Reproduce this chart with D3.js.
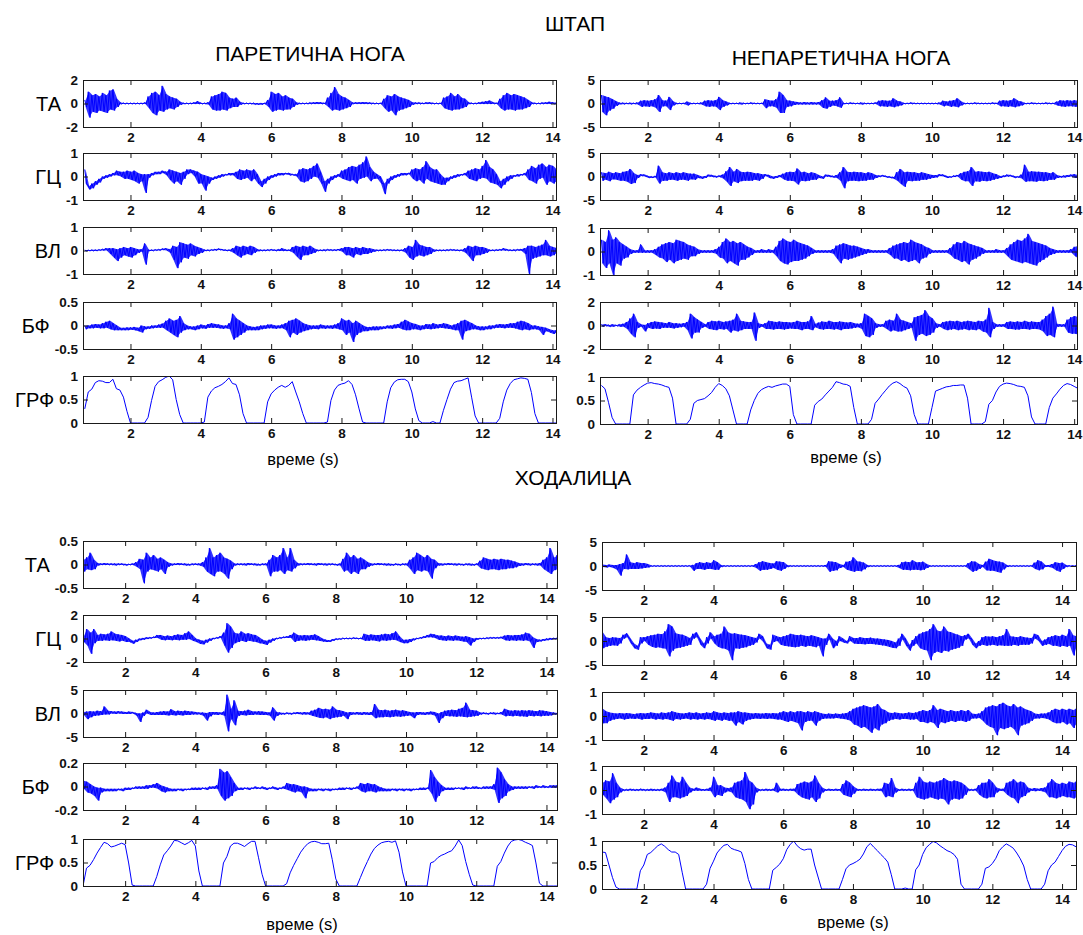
<!DOCTYPE html>
<html><head><meta charset="utf-8">
<script src="https://cdn.jsdelivr.net/npm/d3@7"></script>
<style>
body{margin:0;background:#fff;}
svg text{font-family:"Liberation Sans",Arial,sans-serif;}
</style></head><body>
<svg id="c" width="1083" height="935"></svg>
<script>
// ---------------- DATA ----------------
// EMG traces: per 0.1 s bin, the bin maximum then the bin minimum (alternating).
// GRF traces: one value per 0.1 s.
const mainTitle = "ШТАП";
const sectionTitle2 = "ХОДАЛИЦА";
const colTitles = ["ПАРЕТИЧНА НОГА", "НЕПАРЕТИЧНА НОГА"];
const muscles = ["ТА", "ГЦ", "ВЛ", "БФ", "ГРФ"];
const xLabel = "време (s)";
const xTicks = [2, 4, 6, 8, 10, 12, 14];
const binStep = 0.1;
const startTop = 0.7, startBL = 0.8, startBR = 0.8;

const yTicksTL = [[-2,0,2],[-1,0,1],[-1,0,1],[-0.5,0,0.5],[0,0.5,1]];
const yTicksTR = [[-5,0,5],[-5,0,5],[-1,0,1],[-2,0,2],[0,0.5,1]];
const yTicksBL = [[-0.5,0,0.5],[-2,0,2],[-5,0,5],[-0.2,0,0.2],[0,0.5,1]];
const yTicksBR = [[-5,0,5],[-5,0,5],[-1,0,1],[-1,0,1],[0,0.5,1]];

// ---- ШТАП, ПАРЕТИЧНА НОГА (t from 0.7) ----
const tlTA = [
0.3,-0.3, 1.0,-1.2, 0.7,-0.7,
0.8,-0.8, 0.6,-0.6, 0.9,-0.7, 0.7,-0.8, 1.1,-0.5, 1.2,-0.6, 0.4,-0.3, 0.08,-0.05, 0.05,-0.05, 0.05,-0.05,
0.05,-0.05, 0.05,-0.05, 0.05,-0.05, 0.05,-0.05, 0.08,-0.05, 0.6,-0.4, 0.9,-0.8, 1.0,-1.0, 0.7,-0.6, 1.5,-0.7,
0.8,-0.5, 0.6,-0.4, 0.5,-0.5, 0.4,-0.3, 0.15,-0.1, 0.05,-0.05, 0.05,-0.05, 0.05,-0.05, 0.1,-0.05, 0.2,-0.05,
0.05,-0.05, 0.05,-0.05, 0.1,-0.1, 0.6,-0.5, 0.7,-0.6, 0.8,-0.6, 1.0,-0.5, 0.9,-0.6, 0.5,-0.4, 0.4,-0.3,
0.5,-0.3, 0.15,-0.1, 0.05,-0.05, 0.05,-0.05, 0.05,-0.05, 0.05,-0.08, 0.02,-0.1, 0.05,-0.1, 0.05,-0.05, 0.3,-0.3,
1.0,-0.7, 0.8,-0.6, 0.9,-0.5, 0.6,-0.6, 0.7,-0.5, 0.5,-0.5, 0.4,-0.3, 0.1,-0.1, 0.05,-0.05, 0.05,-0.05,
0.05,-0.05, 0.08,-0.05, 0.1,-0.05, 0.12,-0.05, 0.1,-0.05, 0.05,-0.05, 0.5,-0.3, 0.9,-0.6, 1.4,-0.5, 0.8,-0.6,
0.6,-0.5, 0.5,-0.4, 0.3,-0.3, 0.08,-0.05, 0.1,-0.05, 0.1,-0.05, 0.12,-0.05, 0.1,-0.05, 0.08,-0.05, 0.05,-0.05,
0.05,-0.05, 0.05,-0.05, 0.4,-0.4, 0.7,-0.7, 0.6,-0.6, 0.8,-1.0, 0.6,-0.6, 0.5,-0.5, 0.4,-0.4, 0.3,-0.3,
0.1,-0.1, 0.08,-0.05, 0.08,-0.05, 0.05,-0.05, 0.1,-0.05, 0.1,-0.05, 0.05,-0.05, 0.05,-0.05, 0.05,-0.05, 0.5,-0.4,
0.6,-0.5, 0.9,-0.6, 0.6,-0.5, 0.8,-0.5, 0.5,-0.4, 0.4,-0.3, 0.1,-0.05, 0.05,-0.05, 0.05,-0.05, 0.1,-0.05,
0.15,-0.05, 0.2,-0.05, 0.25,-0.05, 0.1,-0.05, 0.05,-0.05, 0.4,-0.4, 0.7,-0.6, 0.9,-0.5, 0.7,-0.5, 0.8,-0.6,
0.7,-0.5, 0.6,-0.5, 0.5,-0.4, 0.3,-0.3, 0.1,-0.05, 0.05,-0.05, 0.05,-0.05, 0.08,-0.05, 0.1,-0.05, 0.15,-0.05,
0.1,-0.05, 0.05,-0.05
];
const tlGC = [
0.3,-0.3, -0.4,-0.55, -0.3,-0.5,
-0.2,-0.35, -0.1,-0.25, 0.0,-0.1, 0.05,-0.05, 0.1,0.0, 0.15,0.05, 0.25,0.05, 0.2,0.0, 0.2,-0.1, 0.25,-0.1,
0.2,-0.15, 0.25,-0.2, 0.15,-0.3, 0.1,-0.2, 0.1,-0.7, 0.1,-0.05, 0.15,0.05, 0.2,0.1, 0.2,0.1, 0.25,0.15,
0.2,0.05, 0.3,-0.15, 0.25,-0.3, 0.2,-0.2, 0.15,-0.35, 0.2,-0.1, 0.3,0.1, 0.3,0.15, 0.25,0.0, 0.2,-0.3,
0.1,-0.3, 0.05,-0.6, 0.0,-0.3, -0.05,-0.15, 0.0,-0.1, 0.05,-0.05, 0.1,0.0, 0.1,0.05, 0.15,0.05, 0.15,0.05,
0.2,-0.1, 0.3,-0.15, 0.25,-0.1, 0.3,-0.05, 0.25,-0.2, 0.3,-0.1, 0.1,-0.3, -0.2,-0.45, -0.1,-0.3, 0.0,-0.15,
0.05,-0.05, 0.1,0.0, 0.15,0.05, 0.15,0.05, 0.15,0.1, 0.15,0.05, 0.1,0.05, 0.1,0.0, 0.3,-0.2, 0.35,-0.25,
0.3,-0.2, 0.35,-0.1, 0.45,0.0, 0.55,-0.05, 0.2,-0.3, -0.2,-0.65, -0.1,-0.3, 0.0,-0.15, 0.05,-0.05, 0.1,0.0,
0.25,-0.1, 0.3,-0.15, 0.4,-0.2, 0.45,-0.15, 0.4,-0.3, 0.5,-0.1, 0.6,-0.05, 0.85,0.0, 0.4,-0.2, 0.2,-0.1,
0.1,-0.1, 0.0,-0.3, -0.3,-0.75, -0.1,-0.3, 0.0,-0.15, 0.05,-0.05, 0.1,0.0, 0.15,0.05, 0.15,0.05, 0.15,0.1,
0.3,-0.1, 0.35,-0.2, 0.3,-0.15, 0.4,-0.3, 0.65,-0.1, 0.4,-0.2, 0.3,-0.25, 0.3,-0.3, 0.1,-0.35, -0.05,-0.35,
-0.05,-0.2, 0.0,-0.1, 0.05,-0.05, 0.1,0.0, 0.1,0.05, 0.15,0.05, 0.25,-0.1, 0.3,-0.15, 0.35,-0.2, 0.3,-0.1,
0.45,-0.05, 0.7,-0.1, 0.4,-0.25, 0.3,-0.3, 0.1,-0.35, -0.2,-0.5, -0.1,-0.35, 0.0,-0.2, 0.05,-0.1, 0.05,0.0,
0.1,0.0, 0.1,0.05, 0.15,0.05, 0.3,-0.15, 0.45,-0.2, 0.35,-0.3, 0.5,-0.1, 0.55,-0.05, 0.4,-0.35, 0.5,-0.2,
0.45,-0.3, 0.3,-0.2
];
const tlVL = [
0.02,-0.02, 0.02,-0.02, 0.03,-0.02,
0.03,-0.02, 0.04,0.0, 0.06,0.0, 0.1,0.0, 0.1,-0.15, 0.1,-0.3, 0.05,-0.45, 0.1,-0.3, 0.15,-0.2, 0.1,-0.25,
0.15,-0.3, 0.1,-0.2, 0.05,-0.1, 0.05,-0.05, 0.3,-0.6, 0.03,-0.02, 0.03,-0.02, 0.04,0.0, 0.05,0.0, 0.08,0.02,
0.1,0.0, 0.05,-0.1, 0.2,-0.4, 0.15,-0.75, 0.35,-0.5, 0.3,-0.3, 0.25,-0.35, 0.3,-0.2, 0.2,-0.25, 0.15,-0.15,
0.1,-0.1, 0.03,-0.02, 0.03,-0.02, 0.04,0.0, 0.06,0.0, 0.08,0.02, 0.05,0.0, 0.03,-0.02, 0.03,-0.02, 0.1,-0.1,
0.2,-0.2, 0.15,-0.3, 0.2,-0.2, 0.15,-0.15, 0.2,-0.2, 0.15,-0.1, 0.05,-0.03, 0.03,-0.02, 0.03,-0.02, 0.04,-0.01,
0.05,0.0, 0.03,-0.02, 0.05,-0.02, 0.1,-0.02, 0.04,-0.02, 0.03,-0.02, 0.15,-0.1, 0.2,-0.25, 0.15,-0.4, 0.2,-0.2,
0.15,-0.2, 0.2,-0.15, 0.1,-0.1, 0.03,-0.02, 0.03,-0.02, 0.04,-0.02, 0.05,0.0, 0.04,-0.01, 0.04,-0.01, 0.06,0.0,
0.1,-0.05, 0.15,-0.2, 0.15,-0.2, 0.1,-0.3, 0.15,-0.15, 0.1,-0.2, 0.15,-0.15, 0.1,-0.15, 0.1,-0.1, 0.05,-0.05,
0.03,-0.02, 0.03,-0.02, 0.04,-0.01, 0.05,0.0, 0.04,-0.01, 0.03,-0.02, 0.03,-0.02, 0.03,-0.02, 0.1,-0.1, 0.2,-0.3,
0.15,-0.4, 0.45,-0.25, 0.25,-0.2, 0.2,-0.25, 0.15,-0.2, 0.15,-0.15, 0.05,-0.05, 0.03,-0.02, 0.03,-0.02, 0.03,-0.02,
0.04,-0.01, 0.05,0.0, 0.04,-0.01, 0.03,-0.02, 0.03,-0.02, 0.1,-0.1, 0.2,-0.25, 0.15,-0.45, 0.2,-0.2, 0.15,-0.2,
0.15,-0.15, 0.1,-0.1, 0.03,-0.02, 0.03,-0.02, 0.04,-0.01, 0.05,0.0, 0.1,0.0, 0.05,-0.01, 0.03,-0.02, 0.04,-0.02,
0.05,0.0, 0.06,-0.02, 0.1,-0.15, 0.2,-1.0, 0.2,-0.35, 0.15,-0.3, 0.2,-0.25, 0.25,-0.2, 0.45,-0.2, 0.2,-0.25,
0.15,-0.2, 0.1,-0.1
];
const tlBF = [
0.0,-0.08, 0.0,-0.06, 0.02,-0.06,
0.03,-0.05, 0.02,-0.06, 0.05,-0.06, 0.08,-0.05, 0.1,-0.08, 0.05,-0.1, 0.0,-0.1, -0.05,-0.1, -0.05,-0.1, -0.04,-0.1,
-0.04,-0.09, -0.03,-0.1, -0.05,-0.12, 0.0,-0.15, -0.02,-0.08, -0.02,-0.07, 0.0,-0.06, 0.0,-0.05, 0.02,-0.05, 0.04,-0.05,
0.1,-0.1, 0.15,-0.15, 0.1,-0.2, 0.12,-0.25, 0.2,-0.15, 0.05,-0.1, 0.0,-0.08, -0.02,-0.08, -0.02,-0.1, 0.0,-0.08,
0.02,-0.06, 0.0,-0.07, 0.03,-0.05, 0.05,-0.05, 0.03,-0.05, 0.02,-0.06, 0.0,-0.07, 0.0,-0.06, 0.05,-0.08, 0.25,-0.3,
0.15,-0.25, 0.1,-0.2, 0.05,-0.15, 0.0,-0.1, -0.02,-0.1, -0.03,-0.1, -0.02,-0.1, 0.0,-0.08, 0.0,-0.07, 0.02,-0.06,
0.02,-0.06, 0.0,-0.07, 0.0,-0.06, 0.02,-0.06, 0.05,-0.1, 0.1,-0.25, 0.12,-0.15, 0.15,-0.2, 0.1,-0.15, 0.05,-0.12,
0.02,-0.1, 0.0,-0.08, 0.0,-0.07, 0.0,-0.08, 0.02,-0.06, 0.0,-0.07, 0.0,-0.06, 0.0,-0.07, 0.02,-0.06, 0.05,-0.08,
0.15,-0.1, 0.1,-0.2, 0.12,-0.15, 0.05,-0.35, 0.1,-0.2, 0.05,-0.15, 0.0,-0.12, -0.03,-0.12, -0.03,-0.1, -0.02,-0.1,
-0.02,-0.1, -0.02,-0.08, -0.02,-0.07, 0.0,-0.06, 0.0,-0.07, 0.02,-0.06, 0.03,-0.05, 0.08,-0.08, 0.12,-0.1, 0.08,-0.1,
0.05,-0.08, 0.03,-0.08, 0.0,-0.1, 0.0,-0.08, 0.03,-0.07, 0.02,-0.08, 0.05,-0.07, 0.02,-0.06, 0.03,-0.05, 0.05,-0.06,
0.03,-0.07, 0.0,-0.08, 0.02,-0.1, 0.05,-0.1, 0.1,-0.3, 0.12,-0.12, 0.08,-0.1, 0.05,-0.08, 0.0,-0.08, -0.02,-0.1,
-0.02,-0.1, -0.02,-0.08, 0.0,-0.08, 0.0,-0.06, 0.02,-0.05, 0.03,-0.05, 0.02,-0.06, 0.03,-0.05, 0.05,-0.05, 0.05,-0.06,
0.08,-0.08, 0.1,-0.1, 0.08,-0.08, 0.05,-0.1, 0.0,-0.08, 0.0,-0.08, -0.02,-0.1, -0.03,-0.2, -0.05,-0.12, -0.08,-0.15,
-0.1,-0.18, -0.1,-0.15
];
const tlGRF = [
0.3, 0.66, 0.72,
0.86, 0.9, 0.89, 0.86, 0.86, 0.93, 0.73, 0.7, 0.55, 0.25,
0, 0, 0, 0, 0, 0.12, 0.48, 0.78, 0.88, 0.92,
0.97, 1.0, 0.92, 0.5, 0.18, 0, 0, 0, 0, 0,
0, 0.02, 0.55, 0.68, 0.75, 0.78, 0.82, 0.88, 0.96, 0.84,
0.82, 0.6, 0.2, 0, 0, 0, 0, 0, 0, 0.45,
0.62, 0.7, 0.76, 0.8, 0.76, 0.8, 0.88, 0.66, 0.45, 0.2,
0, 0, 0, 0, 0, 0, 0.02, 0.48, 0.7, 0.8,
0.83, 0.85, 0.9, 0.82, 0.6, 0.3, 0.02, 0, 0, 0,
0, 0, 0, 0.45, 0.75, 0.87, 0.92, 0.93, 0.93, 0.88,
0.66, 0.3, 0.05, 0, 0, 0, 0.03, 0, 0, 0.27,
0.5, 0.72, 0.86, 0.89, 0.9, 0.93, 0.96, 0.55, 0.15, 0,
0, 0, 0, 0, 0, 0.1, 0.45, 0.7, 0.84, 0.92,
0.94, 0.96, 0.95, 0.93, 0.65, 0.2, 0, 0, 0, 0,
0, 0
];

// ---- ШТАП, НЕПАРЕТИЧНА НОГА (t from 0.7) ----
const trTA = [
1.8,-1.8, 1.5,-2.5, 1.3,-1.5,
0.9,-1.1, 0.5,-0.5, 0.15,-0.15, 0.15,-0.15, 0.1,-0.1, 0.15,-0.15, 0.1,-0.1, 0.2,-0.2, 0.6,-0.7, 0.7,-0.6,
0.6,-0.7, 0.7,-0.6, 0.9,-0.9, 1.8,-1.8, 0.7,-0.6, 0.6,-0.6, 1.4,-1.4, 0.5,-0.4, 0.1,-0.1, 0.1,-0.1,
0.1,-0.1, 0.4,-0.4, 0.1,-0.1, 0.1,-0.1, 0.1,-0.1, 0.2,-0.2, 0.6,-0.6, 0.7,-0.7, 0.6,-0.6, 0.7,-0.7,
1.4,-1.4, 0.7,-0.7, 0.4,-0.4, 0.1,-0.1, 0.1,-0.1, 0.1,-0.1, 0.2,-0.2, 0.1,-0.1, 0.1,-0.1, 0.2,-0.1,
0.1,-0.1, 0.1,-0.1, 0.1,-0.1, 0.9,-1.0, 0.7,-0.6, 0.6,-0.6, 0.9,-0.9, 2.5,-2.0, 1.8,-2.0, 0.7,-0.7,
0.6,-0.6, 0.4,-0.3, 0.3,-0.2, 0.2,-0.2, 0.3,-0.2, 0.2,-0.2, 0.3,-0.2, 0.2,-0.2, 0.3,-0.2, 0.7,-0.9,
1.3,-1.1, 0.6,-0.7, 0.6,-0.4, 0.7,-0.6, 1.3,-0.9, 0.1,-0.1, 0.1,-0.1, 0.2,-0.1, 0.1,-0.1, 0.1,-0.1,
0.2,-0.2, 0.1,-0.1, 0.1,-0.1, 0.1,-0.1, 0.2,-0.1, 0.6,-0.6, 0.7,-0.6, 0.6,-0.7, 0.6,-0.6, 1.1,-0.8,
0.6,-0.6, 0.4,-0.4, 0.1,-0.1, 0.1,-0.1, 0.2,-0.1, 0.1,-0.1, 0.1,-0.1, 0.1,-0.1, 0.1,-0.1, 0.1,-0.1,
0.1,-0.1, 0.1,-0.1, 0.2,-0.2, 0.6,-0.6, 0.4,-0.4, 0.6,-0.7, 0.7,-0.6, 1.1,-0.8, 0.5,-0.4, 0.1,-0.1,
0.1,-0.1, 0.1,-0.1, 0.2,-0.1, 0.1,-0.1, 0.1,-0.1, 0.1,-0.1, 0.1,-0.1, 0.2,-0.1, 0.1,-0.1, 0.6,-0.6,
0.7,-0.6, 0.6,-0.7, 0.7,-0.6, 1.1,-0.8, 0.6,-0.6, 0.4,-0.4, 0.1,-0.1, 0.1,-0.1, 0.2,-0.1, 0.1,-0.1,
0.1,-0.1, 0.1,-0.1, 0.2,-0.1, 0.1,-0.1, 0.1,-0.1, 0.4,-0.4, 0.7,-0.6, 0.6,-0.7, 0.7,-0.6, 0.6,-0.6,
0.7,-0.7, 0.6,-0.6
];
const trGC = [
0.9,-0.9, 0.7,-0.7, 1.0,-1.0,
0.7,-0.6, 0.9,-0.7, 0.7,-0.9, 1.0,-0.9, 1.1,-1.1, 1.6,-1.6, 0.7,-1.4, 0.3,-0.3, 0.5,0.1, 0.4,0.0,
0.1,-0.3, 0.0,-0.3, 0.1,-0.2, 2.3,-1.5, 0.9,-0.9, 0.7,-0.9, 0.9,-0.7, 0.7,-0.7, 0.9,-0.9, 0.7,-0.7,
0.9,-0.7, 0.7,-0.9, 0.6,-0.6, 0.6,-0.7, 0.3,-0.3, 0.0,-0.5, 0.1,-0.3, 0.4,0.0, 0.3,-0.1, 0.1,-0.2,
0.2,-0.1, 0.4,-0.4, 1.1,-1.1, 2.0,-2.0, 1.0,-1.0, 1.6,-1.4, 1.0,-1.0, 0.9,-0.9, 1.0,-0.9, 0.9,-0.9,
0.7,-0.7, 0.7,-0.9, 0.5,-0.5, 0.5,0.1, 0.3,-0.3, 0.0,-0.5, 0.1,-0.3, 0.3,-0.1, 0.6,-0.6, 0.9,-0.9,
1.0,-0.9, 0.9,-1.0, 1.7,-1.7, 0.9,-0.9, 1.0,-1.0, 0.7,-0.9, 0.9,-0.7, 0.7,-0.7, 0.3,-0.3, 0.0,-0.5,
0.4,0.0, 0.3,-0.1, 0.1,-0.2, 0.3,-0.3, 0.9,-0.9, 2.0,-2.5, 1.0,-1.0, 0.9,-0.9, 1.0,-0.9, 0.9,-1.0,
0.9,-0.9, 0.7,-0.9, 0.9,-0.7, 0.7,-0.7, 0.3,-0.3, 0.2,-0.1, 0.3,0.0, 0.1,-0.2, 0.0,-0.3, -0.1,-0.5,
0.9,-0.9, 1.6,-1.6, 0.9,-2.2, 1.0,-0.9, 0.9,-1.0, 0.9,-0.9, 0.7,-0.9, 0.9,-0.7, 0.7,-0.7, 0.5,-0.5,
0.3,-0.3, 0.3,-0.2, 0.5,0.1, 0.4,0.0, 0.1,-0.3, 0.0,-0.2, 0.2,-0.1, 0.3,0.0, 0.7,-0.7, 1.0,-1.0,
1.1,-1.0, 2.0,-2.0, 1.0,-1.0, 1.1,-1.1, 1.0,-0.9, 0.9,-1.0, 1.0,-0.9, 0.7,-0.7, 0.5,-0.5, 0.1,-0.3,
0.2,-0.1, 0.4,0.0, 0.3,0.0, 0.1,-0.3, 0.0,-0.2, 0.4,-0.4, 2.5,-1.1, 1.0,-1.0, 1.1,-1.0, 1.0,-1.1,
1.0,-0.9, 0.9,-1.0, 0.9,-0.9, 0.7,-0.7, 0.9,-0.7, 0.3,-0.3, 0.1,-0.2, 0.2,-0.2, 0.3,-0.1, 0.4,0.0,
0.5,-0.3, 0.3,-0.3
];
const trVL = [
0.5,-0.5, 0.4,-0.7, 0.9,-0.5,
0.5,-1.0, 0.6,-0.5, 0.4,-0.6, 0.3,-0.3, 0.2,-0.25, 0.1,-0.1, 0.05,-0.05, 0.05,-0.05, 0.3,-0.05, 0.05,-0.05,
0.05,-0.05, 0.05,-0.05, 0.1,-0.15, 0.2,-0.25, 0.3,-0.3, 0.35,-0.45, 0.4,-0.35, 0.35,-0.5, 0.5,-0.4, 0.45,-0.35,
0.4,-0.3, 0.3,-0.35, 0.25,-0.2, 0.2,-0.2, 0.1,-0.1, 0.05,-0.05, 0.05,-0.05, 0.05,-0.05, 0.05,-0.05, 0.1,-0.1,
0.2,-0.25, 0.4,-0.3, 0.55,-0.5, 0.4,-0.4, 0.45,-0.5, 0.35,-0.6, 0.4,-0.35, 0.3,-0.35, 0.2,-0.25, 0.15,-0.15,
0.05,-0.05, 0.05,-0.05, 0.1,-0.05, 0.05,-0.05, 0.1,-0.05, 0.05,-0.05, 0.2,-0.2, 0.45,-0.4, 0.55,-0.5, 0.45,-0.55,
0.4,-0.45, 0.5,-0.4, 0.4,-0.4, 0.35,-0.35, 0.3,-0.3, 0.25,-0.2, 0.15,-0.1, 0.05,-0.05, 0.05,-0.05, 0.05,-0.05,
0.05,-0.05, 0.05,-0.05, 0.1,-0.1, 0.25,-0.3, 0.3,-0.5, 0.35,-0.3, 0.3,-0.35, 0.25,-0.3, 0.25,-0.25, 0.2,-0.2,
0.15,-0.15, 0.1,-0.1, 0.1,-0.05, 0.05,-0.05, 0.05,-0.05, 0.05,-0.05, 0.05,-0.05, 0.05,-0.05, 0.15,-0.15, 0.25,-0.3,
0.3,-0.3, 0.35,-0.4, 0.4,-0.35, 0.35,-0.45, 0.5,-0.4, 0.4,-0.35, 0.35,-0.5, 0.3,-0.3, 0.2,-0.25, 0.15,-0.1,
0.05,-0.05, 0.05,-0.05, 0.05,-0.05, 0.05,-0.05, 0.05,-0.05, 0.15,-0.15, 0.3,-0.3, 0.4,-0.35, 0.35,-0.45, 0.45,-0.4,
0.35,-0.55, 0.3,-0.35, 0.25,-0.3, 0.2,-0.2, 0.15,-0.1, 0.05,-0.05, 0.05,-0.05, 0.05,-0.05, 0.1,-0.05, 0.05,-0.05,
0.05,-0.05, 0.15,-0.2, 0.3,-0.35, 0.4,-0.4, 0.5,-0.45, 0.45,-0.5, 0.55,-0.45, 0.75,-0.5, 0.45,-0.55, 0.4,-0.6,
0.35,-0.45, 0.3,-0.35, 0.25,-0.25, 0.15,-0.15, 0.1,-0.1, 0.05,-0.05, 0.05,-0.05, 0.05,-0.05, 0.05,-0.05, 0.1,-0.05,
0.2,-0.2, 0.25,-0.3
];
const trBF = [
0.1,-0.1, 0.1,-0.05, 0.05,-0.1,
0.1,-0.1, 0.05,-0.05, 0.1,-0.1, 0.15,-0.1, 0.3,-0.3, 0.6,-0.7, 1.0,-1.0, 0.3,-0.2, 0.1,-0.1, 0.05,-0.5,
0.2,-0.2, 0.3,-0.3, 0.35,-0.25, 0.3,-0.3, 0.25,-0.2, 0.2,-0.2, 0.3,-0.2, 0.2,-0.25, 0.2,-0.2, 0.15,-0.15,
0.2,-0.1, 0.3,-0.4, 1.0,-1.1, 0.7,-0.6, 0.5,-0.6, 0.3,-0.2, 0.1,-0.1, 0.3,-0.3, 0.4,-0.35, 0.35,-0.4,
0.4,-0.3, 0.3,-0.35, 0.35,-0.3, 0.4,-0.6, 0.5,-0.4, 1.0,-0.5, 0.4,-0.4, 0.35,-0.3, 0.3,-0.3, 0.3,-0.3,
1.1,-1.3, 0.2,-0.2, 0.1,-0.1, 0.2,-0.3, 0.4,-0.3, 0.35,-0.35, 0.3,-0.3, 0.35,-0.3, 0.3,-0.35, 0.3,-0.3,
0.25,-0.25, 0.3,-0.3, 0.4,-0.3, 0.3,-0.4, 0.3,-0.3, 0.35,-0.3, 0.8,-0.4, 0.15,-0.15, 0.25,-0.3, 0.35,-0.35,
0.3,-0.3, 0.4,-0.3, 0.3,-0.35, 0.3,-0.3, 0.35,-0.4, 0.3,-0.3, 0.25,-0.3, 0.3,-0.25, 0.2,-0.2, 0.15,-0.15,
0.2,-0.3, 1.0,-0.9, 0.8,-1.0, 0.6,-0.8, 0.2,-0.2, 0.1,-0.1, 0.1,-0.1, 0.4,-0.3, 0.5,-0.5, 0.4,-0.4,
1.0,-0.5, 0.5,-0.5, 0.4,-0.4, 0.3,-0.3, 0.2,-0.2, 0.7,-1.3, 0.8,-0.8, 0.9,-0.7, 1.3,-0.9, 0.8,-0.8,
0.6,-0.6, 0.2,-0.2, 0.1,-0.1, 0.3,-0.3, 0.35,-0.4, 0.4,-0.35, 0.35,-0.3, 0.4,-0.4, 0.3,-0.35, 0.35,-0.3,
0.4,-0.4, 0.35,-0.35, 0.3,-0.4, 0.4,-0.3, 0.35,-0.5, 0.5,-0.6, 1.5,-1.0, 0.3,-0.3, 0.1,-0.1, 0.1,-0.1,
0.1,-0.1, 0.3,-0.3, 0.35,-0.3, 0.3,-0.35, 0.35,-0.35, 0.3,-0.3, 0.4,-0.3, 0.3,-0.35, 0.35,-0.3, 0.3,-0.3,
0.3,-0.35, 0.5,-0.5, 0.8,-0.9, 1.0,-0.8, 1.6,-1.0, 0.15,-0.1, 0.1,-0.1, 0.1,-0.1, 0.5,-0.6, 0.7,-0.7,
0.8,-0.7, 0.7,-0.8
];
const trGRF = [
0.82, 0.75, 0.46,
0.14, 0, 0, 0, 0, 0, 0.62, 0.72, 0.78, 0.83,
0.87, 0.88, 0.86, 0.85, 0.83, 0.8, 0.78, 0.55, 0, 0,
0, 0, 0.1, 0.44, 0.5, 0.52, 0.54, 0.6, 0.67, 0.78,
0.86, 0.82, 0.75, 0.6, 0.3, 0, 0, 0, 0, 0.3,
0.5, 0.65, 0.73, 0.77, 0.8, 0.78, 0.81, 0.83, 0.85, 0.85,
0.8, 0.2, 0, 0, 0, 0, 0, 0.4, 0.48, 0.53,
0.62, 0.7, 0.78, 0.9, 0.88, 0.85, 0.84, 0.8, 0.35, 0,
0, 0, 0, 0.1, 0.44, 0.53, 0.63, 0.72, 0.81, 0.87,
0.9, 0.86, 0.8, 0.76, 0.6, 0.2, 0, 0, 0, 0,
0.35, 0.7, 0.73, 0.76, 0.79, 0.8, 0.82, 0.82, 0.83, 0.83,
0.55, 0, 0, 0, 0, 0.05, 0.42, 0.5, 0.68, 0.8,
0.85, 0.87, 0.86, 0.84, 0.81, 0.8, 0.78, 0.6, 0.15, 0,
0, 0, 0, 0.35, 0.55, 0.64, 0.74, 0.82, 0.86, 0.84,
0.8, 0.76
];

// ---- ХОДАЛИЦА, ПАРЕТИЧНА НОГА (t from 0.8) ----
const blTA = [
0.1,-0.15, 0.15,-0.1,
0.25,-0.12, 0.1,-0.1, 0.03,-0.02, 0.02,-0.01, 0.03,-0.01, 0.02,-0.01, 0.02,-0.01, 0.02,-0.02, 0.02,-0.01, 0.02,-0.01,
0.01,-0.02, 0.01,-0.01, 0.02,-0.01, 0.05,-0.05, 0.12,-0.1, 0.1,-0.4, 0.25,-0.15, 0.15,-0.1, 0.2,-0.12, 0.12,-0.15,
0.15,-0.1, 0.1,-0.2, 0.05,-0.05, 0.02,-0.02, 0.02,-0.01, 0.03,-0.01, 0.02,-0.01, 0.02,-0.02, 0.01,-0.02, 0.02,-0.01,
0.02,-0.01, 0.02,-0.02, 0.05,-0.05, 0.15,-0.15, 0.35,-0.2, 0.15,-0.25, 0.2,-0.15, 0.25,-0.15, 0.15,-0.2, 0.12,-0.3,
0.08,-0.1, 0.02,-0.02, 0.02,-0.01, 0.02,-0.01, 0.02,-0.02, 0.03,-0.01, 0.02,-0.01, 0.02,-0.02, 0.01,-0.02, 0.02,-0.01,
0.02,-0.02, 0.1,-0.25, 0.2,-0.15, 0.15,-0.15, 0.2,-0.12, 0.35,-0.2, 0.15,-0.12, 0.35,-0.15, 0.1,-0.08, 0.03,-0.02,
0.02,-0.01, 0.02,-0.01, 0.03,-0.01, 0.02,-0.01, 0.02,-0.02, 0.03,-0.01, 0.02,-0.01, 0.02,-0.02, 0.02,-0.01, 0.02,-0.01,
0.01,-0.02, 0.02,-0.02, 0.12,-0.15, 0.25,-0.12, 0.15,-0.2, 0.2,-0.15, 0.12,-0.2, 0.15,-0.1, 0.1,-0.1, 0.05,-0.05,
0.02,-0.02, 0.02,-0.01, 0.03,-0.01, 0.02,-0.01, 0.02,-0.02, 0.02,-0.02, 0.01,-0.02, 0.02,-0.01, 0.01,-0.02, 0.02,-0.01,
0.02,-0.02, 0.1,-0.1, 0.15,-0.2, 0.25,-0.12, 0.2,-0.15, 0.15,-0.12, 0.2,-0.15, 0.12,-0.3, 0.1,-0.08, 0.03,-0.02,
0.02,-0.02, 0.02,-0.01, 0.03,-0.01, 0.02,-0.01, 0.02,-0.02, 0.02,-0.01, 0.01,-0.02, 0.02,-0.01, 0.02,-0.02, 0.01,-0.02,
0.02,-0.01, 0.08,-0.08, 0.15,-0.1, 0.12,-0.12, 0.1,-0.1, 0.12,-0.1, 0.1,-0.12, 0.12,-0.1, 0.1,-0.1, 0.1,-0.08,
0.08,-0.08, 0.06,-0.06, 0.03,-0.03, 0.02,-0.02, 0.03,-0.01, 0.02,-0.02, 0.02,-0.01, 0.02,-0.02, 0.03,-0.02, 0.1,-0.1,
0.15,-0.15, 0.35,-0.2, 0.15,-0.12, 0.2,-0.1
];
const blGC = [
0.2,-0.3, 0.8,-0.6,
0.5,-1.3, 0.8,-0.4, 0.3,-0.2, 0.4,-0.2, 0.35,-0.15, 0.4,-0.2, 0.6,-0.15, 0.4,-0.2, 0.35,-0.25, 0.3,-0.2,
0.2,-0.3, 0.0,-0.3, -0.2,-0.45, -0.1,-0.3, 0.0,-0.15, 0.05,-0.1, 0.1,-0.05, 0.1,0.0, 0.15,0.05, 0.3,0.05,
0.3,-0.1, 0.2,-0.15, 0.25,-0.1, 0.2,-0.15, 0.3,-0.1, 0.35,-0.15, 0.3,-0.1, 0.45,-0.1, 0.6,-0.05, 0.3,-0.2,
0.0,-0.3, -0.1,-0.45, -0.2,-0.5, -0.1,-0.35, 0.0,-0.2, 0.05,-0.05, 0.1,0.0, 0.2,0.05, 0.5,-0.6, 1.3,-1.2,
1.0,-0.8, 0.5,-0.4, 0.4,-0.3, 0.6,-0.2, 0.4,-0.3, 0.45,-0.2, 0.35,-0.25, 0.3,-0.3, 0.1,-0.4, -0.1,-0.45,
-0.2,-0.55, -0.1,-0.35, 0.0,-0.2, 0.05,-0.05, 0.1,0.0, 0.15,0.05, 0.2,0.05, 0.3,0.05, 0.5,-0.3, 0.3,-0.2,
0.25,-0.15, 0.3,-0.2, 0.25,-0.15, 0.3,-0.1, 0.35,-0.15, 0.2,-0.2, 0.0,-0.25, -0.1,-0.3, -0.15,-0.3, -0.05,-0.2,
0.0,-0.1, 0.0,-0.08, 0.05,-0.05, 0.05,-0.05, 0.05,-0.05, 0.08,-0.02, 0.05,-0.05, 0.05,-0.05, 0.4,-0.2, 0.3,-0.2,
0.35,-0.15, 0.3,-0.2, 0.3,-0.25, 0.35,-0.15, 0.4,-0.2, 0.35,-0.15, 0.45,-0.1, 0.6,-0.15, 0.2,-0.3, -0.1,-0.4,
-0.1,-0.4, -0.05,-0.3, 0.0,-0.15, 0.05,-0.05, 0.1,0.0, 0.2,0.05, 0.3,0.1, 0.4,0.1, 0.35,0.05, 0.25,-0.1,
0.25,-0.15, 0.2,-0.2, 0.25,-0.15, 0.2,-0.2, 0.25,-0.15, 0.2,-0.2, 0.15,-0.25, 0.2,-0.3, 0.1,-0.6, 0.0,-0.3,
0.05,-0.1, 0.05,-0.05, 0.05,-0.05, 0.08,-0.02, 0.1,0.0, 0.1,0.0, 0.1,0.0, 0.15,0.0, 0.25,-0.15, 0.3,-0.2,
0.25,-0.15, 0.3,-0.2, 0.3,-0.15, 0.35,-0.2, 0.5,-0.15, 0.4,-0.25, 0.1,-0.8, -0.05,-0.3, -0.1,-0.25, -0.05,-0.2,
0.0,-0.15, 0.05,-0.1, 0.05,-0.05, 0.05,-0.05
];
const blVL = [
0.3,-0.3, 0.4,-1.2,
0.5,-0.8, 0.4,-0.5, 0.6,-0.4, 0.5,-0.3, 1.5,-0.2, 0.6,-0.2, 0.5,0.0, 0.4,-0.1, 0.5,0.0, 0.4,-0.1,
0.3,-0.1, 0.4,-0.1, 0.3,0.0, 0.1,-0.5, 0.0,-1.8, 0.2,-0.5, 0.8,0.0, 0.3,-0.3, 0.2,-0.3, 0.3,-0.3,
0.4,-0.3, 0.5,-0.3, 0.4,-0.4, 0.9,-0.3, 0.5,-0.4, 0.6,-0.3, 0.5,-0.4, 0.6,-0.3, 0.5,-0.3, 0.4,-0.2,
0.3,-0.2, 0.2,-0.2, 0.2,-0.5, 0.1,-1.5, 0.3,-0.6, 0.3,-0.2, 0.3,-0.3, 0.2,-0.2, 0.4,-0.5, 4.0,-3.8,
1.0,-1.2, 2.8,-2.5, 0.6,-0.5, 0.5,-0.3, 0.6,-0.4, 0.8,-0.3, 0.5,-0.3, 0.4,-0.2, 0.5,-0.3, 0.4,-0.3,
0.3,-0.3, 0.2,-0.5, 1.3,-1.5, 0.3,-0.5, 0.2,-0.2, 0.1,-0.2, 0.2,-0.1, 0.1,-0.2, 0.2,-0.1, 0.3,-0.1,
0.2,-0.2, 0.3,-0.2, 0.2,-0.2, 0.6,-0.5, 0.8,-0.7, 1.2,-0.9, 0.9,-1.0, 1.0,-0.8, 0.8,-1.2, 1.5,-0.9,
0.8,-0.8, 0.7,-0.7, 0.5,-0.5, 0.2,-1.2, 0.3,-0.3, 0.2,-0.2, 0.3,-0.2, 0.2,-0.3, 0.3,-0.2, 0.2,-0.3,
0.3,-0.3, 2.0,-1.0, 0.8,-0.8, 0.7,-0.8, 0.8,-0.7, 0.6,-0.8, 0.7,-0.7, 0.8,-0.6, 0.6,-0.7, 0.7,-0.6,
0.5,-0.5, 0.3,-0.4, 0.2,-1.0, 0.3,-0.3, 0.3,-0.2, 0.2,-0.3, 0.3,-0.2, 0.4,-0.2, 0.3,-0.5, 0.0,-2.0,
0.3,-1.0, 0.6,-0.5, 0.7,-0.6, 0.8,-0.6, 0.7,-0.7, 1.0,-0.6, 1.2,-0.7, 2.3,-0.8, 0.8,-0.7, 0.7,-0.6,
0.6,-0.5, 0.2,-0.2, 0.2,-0.1, 0.1,-0.2, 0.2,-0.1, 0.2,-0.2, 0.1,-0.1, 0.3,-0.2, 1.0,-0.6, 0.7,-0.5,
0.6,-0.6, 0.7,-0.5, 0.6,-0.6, 0.7,-0.6, 0.6,-0.7, 0.7,-0.5, 0.6,-0.6, 0.5,-0.5, 0.7,-0.6, 0.6,-0.5,
0.5,-0.5, 0.3,-0.4, 0.2,-0.2, 0.1,-0.2
];
const blBF = [
0.05,-0.02, 0.04,-0.05,
0.02,-0.06, 0.0,-0.08, -0.01,-0.12, -0.01,-0.05, -0.02,-0.04, -0.02,-0.04, -0.02,-0.04, -0.02,-0.04, -0.02,-0.03, -0.02,-0.04,
-0.01,-0.03, -0.01,-0.03, -0.01,-0.02, 0.0,-0.02, 0.0,-0.02, 0.0,-0.02, 0.01,-0.02, 0.01,-0.01, 0.02,-0.01, 0.03,-0.02,
0.01,-0.04, 0.0,-0.05, -0.01,-0.04, -0.02,-0.04, -0.02,-0.04, -0.02,-0.03, -0.02,-0.04, -0.02,-0.03, -0.02,-0.03, -0.01,-0.03,
-0.01,-0.03, -0.01,-0.03, -0.01,-0.02, -0.01,-0.03, 0.0,-0.02, 0.0,-0.02, 0.01,-0.02, 0.15,-0.08, 0.12,-0.12, 0.13,-0.1,
0.08,-0.08, 0.03,-0.04, -0.01,-0.03, -0.01,-0.03, -0.01,-0.02, -0.01,-0.03, -0.01,-0.02, 0.0,-0.02, -0.01,-0.02, 0.0,-0.02,
-0.01,-0.03, -0.01,-0.02, 0.0,-0.02, -0.01,-0.03, -0.01,-0.02, 0.0,-0.02, 0.03,-0.03, 0.02,-0.04, 0.02,-0.05, 0.01,-0.04,
0.0,-0.05, 0.0,-0.1, -0.01,-0.04, -0.02,-0.04, -0.02,-0.04, -0.02,-0.03, -0.02,-0.04, -0.02,-0.03, -0.02,-0.04, -0.02,-0.03,
-0.02,-0.03, -0.01,-0.03, -0.01,-0.03, -0.01,-0.02, -0.01,-0.03, -0.01,-0.02, 0.0,-0.02, 0.03,-0.04, 0.02,-0.05, 0.03,-0.04,
0.02,-0.04, 0.02,-0.05, 0.0,-0.04, -0.01,-0.04, -0.02,-0.04, -0.02,-0.04, -0.02,-0.03, -0.02,-0.04, -0.02,-0.03, -0.02,-0.04,
-0.02,-0.03, -0.02,-0.04, -0.02,-0.03, -0.02,-0.03, -0.01,-0.03, -0.01,-0.03, -0.01,-0.02, 0.14,-0.06, 0.08,-0.13, 0.04,-0.08,
0.01,-0.04, -0.01,-0.03, -0.01,-0.03, -0.01,-0.03, -0.01,-0.02, -0.01,-0.02, -0.01,-0.03, 0.0,-0.02, -0.01,-0.02, 0.0,-0.02,
0.0,-0.02, -0.01,-0.02, 0.0,-0.02, 0.0,-0.02, 0.0,-0.02, 0.02,-0.03, 0.16,-0.14, 0.12,-0.1, 0.06,-0.08, 0.02,-0.04,
0.0,-0.03, 0.0,-0.02, 0.0,-0.02, 0.0,-0.02, 0.0,-0.02, 0.0,-0.01, 0.0,-0.02, 0.01,-0.01, 0.0,-0.01, 0.01,-0.01,
0.0,-0.01, 0.01,-0.01, 0.01,-0.01, 0.01,-0.01
];
const blGRF = [
0.0, 0.38,
0.44, 0.56, 0.7, 0.82, 0.93, 0.9, 0.83, 0.85, 0.88, 0.91,
0.88, 0.49, 0.02, 0, 0, 0, 0, 0, 0, 0.2,
0.45, 0.66, 0.75, 0.85, 0.97, 0.96, 0.92, 0.88, 0.92, 0.97,
0.85, 0.32, 0, 0, 0, 0, 0, 0, 0.49, 0.63,
0.85, 0.91, 0.91, 0.88, 0.84, 0.9, 0.95, 0.95, 0.6, 0.25,
0, 0, 0, 0, 0, 0, 0.05, 0.28, 0.44, 0.58,
0.72, 0.82, 0.9, 0.94, 0.95, 0.93, 0.9, 0.9, 0.91, 0.56,
0.15, 0, 0, 0, 0, 0, 0, 0.18, 0.36, 0.52,
0.68, 0.8, 0.87, 0.92, 0.94, 0.95, 0.93, 0.96, 0.72, 0.3,
0, 0, 0, 0, 0, 0, 0, 0.49, 0.52, 0.6,
0.65, 0.68, 0.72, 0.75, 0.85, 0.98, 0.86, 0.52, 0.25, 0.02,
0, 0, 0, 0, 0, 0, 0.42, 0.52, 0.7, 0.85,
0.95, 0.98, 0.99, 0.97, 0.93, 0.9, 0.86, 0.49, 0.06, 0,
0, 0, 0, 0
];

// ---- ХОДАЛИЦА, НЕПАРЕТИЧНА НОГА (t from 0.8) ----
const brTA = [
0.3,-0.2, 0.2,-0.3,
0.3,-0.2, 0.2,-0.4, 0.2,-0.8, 0.4,-2.0, 0.6,-0.6, 2.4,-0.7, 0.8,-0.6, 0.6,-0.6, 0.8,-0.6, 0.6,-0.5,
0.6,-0.4, 0.4,-0.3, 0.1,-0.1, 0.1,-0.1, 0.1,-0.1, 0.1,-0.1, 0.1,-0.1, 0.1,-0.1, 0.1,-0.1, 0.1,-0.1,
0.1,-0.1, 0.1,-0.1, 0.1,-0.1, 0.1,-0.1, 0.2,-1.0, 0.6,-0.6, 0.8,-0.6, 0.6,-0.8, 0.8,-0.6, 0.6,-0.6,
1.2,-0.8, 0.8,-0.8, 0.2,-0.2, 0.1,-0.1, 0.1,-0.1, 0.1,-0.1, 0.1,-0.1, 0.1,-0.1, 0.1,-0.1, 0.1,-0.1,
0.1,-0.1, 0.1,-0.1, 0.4,-0.4, 0.8,-1.0, 1.0,-0.8, 0.8,-0.8, 0.6,-0.6, 0.5,-0.4, 1.0,-0.8, 0.9,-1.0,
0.8,-0.6, 0.2,-0.2, 0.1,-0.1, 0.1,-0.1, 0.1,-0.1, 0.1,-0.1, 0.1,-0.1, 0.1,-0.1, 0.1,-0.1, 0.1,-0.1,
0.1,-0.1, 0.1,-0.1, 0.2,-0.2, 1.0,-1.2, 0.9,-1.0, 0.8,-0.9, 0.4,-0.4, 0.2,-0.2, 0.9,-0.8, 1.0,-1.0,
1.8,-1.2, 1.0,-1.0, 0.9,-1.1, 0.7,-0.7, 0.2,-0.2, 0.1,-0.1, 0.1,-0.1, 0.1,-0.1, 0.1,-0.1, 0.1,-0.1,
0.1,-0.1, 0.1,-0.1, 0.1,-0.1, 0.2,-0.4, 0.8,-0.8, 0.9,-0.8, 0.8,-0.9, 1.2,-0.8, 0.8,-0.8, 0.8,-0.9,
0.9,-0.8, 0.4,-0.4, 0.1,-0.1, 0.1,-0.1, 0.1,-0.1, 0.1,-0.1, 0.1,-0.1, 0.1,-0.1, 0.1,-0.1, 0.1,-0.1,
0.1,-0.1, 0.1,-0.1, 0.1,-0.1, 0.6,-0.6, 1.0,-1.2, 0.9,-1.0, 0.4,-0.6, 0.2,-0.2, 0.9,-0.9, 1.5,-1.0,
1.2,-1.0, 1.0,-1.2, 0.9,-1.4, 0.7,-0.7, 0.2,-0.2, 0.1,-0.1, 0.1,-0.1, 0.1,-0.1, 0.1,-0.1, 0.1,-0.1,
0.1,-0.1, 0.1,-0.1, 0.7,-0.6, 1.2,-0.9, 0.9,-0.7, 0.2,-0.2, 0.2,-0.2, 0.4,-0.4, 0.8,-0.9, 0.6,-1.2,
0.7,-0.6, 0.2,-0.2, 0.1,-0.1, 0.1,-0.1, 0.1,-0.1
];
const brGC = [
1.8,-1.5, 0.8,-1.2,
0.6,-1.0, 0.8,-0.9, 0.7,-1.0, 0.6,-0.5, 1.3,0.5, 1.6,0.8, 0.5,-0.5, -0.5,-1.5, -1.0,-1.8, 0.8,-0.5,
0.8,0.0, 1.0,-0.8, 1.2,-1.2, 1.3,-1.4, 1.5,-1.3, 1.4,-1.5, 2.0,-1.6, 3.5,-3.2, 3.0,-2.0, 1.6,-1.5,
1.4,-1.4, 1.3,-1.2, 1.0,-1.0, 0.6,-0.8, 1.5,0.5, 1.8,0.8, 0.5,-0.8, -0.5,-1.5, 0.8,-0.5, 1.8,0.5,
1.0,-0.5, 1.3,-1.2, 1.5,-1.5, 3.0,-1.6, 1.8,-2.0, 1.5,-4.0, 1.6,-1.5, 1.4,-1.6, 1.3,-1.4, 1.2,-1.3,
1.0,-1.0, 0.8,-0.8, 0.6,-0.3, 1.5,0.5, 1.0,-0.2, -0.5,-1.5, -0.8,-1.8, 1.3,-0.2, 1.0,0.0, 0.8,-0.8,
1.0,-1.0, 1.2,-1.1, 1.5,-1.2, 1.3,-1.3, 1.2,-1.2, 1.3,-1.0, 1.1,-1.2, 1.0,-1.0, 1.2,-1.1, 1.0,-1.3,
0.8,-1.0, 0.5,-3.2, 0.5,-0.8, 1.5,0.3, 0.5,-1.5, 0.0,-1.0, 1.0,0.0, 0.5,-0.3, 0.0,-0.5, 1.0,0.0,
0.6,-0.5, 0.6,-0.6, 0.8,-0.6, 0.6,-0.7, 0.6,-0.6, 0.7,-0.6, 0.5,-0.7, 0.5,-0.8, 0.4,-0.9, 0.3,-1.0,
0.2,-1.2, 0.0,-1.4, -0.3,-1.5, 0.5,-1.0, 1.5,0.3, 0.5,-1.0, -0.8,-2.0, 0.2,-1.0, 1.0,-0.5, 1.5,-1.5,
1.8,-1.8, 2.0,-2.0, 2.5,-4.0, 3.5,-2.5, 2.2,-2.2, 2.0,-2.5, 3.0,-2.0, 2.0,-2.2, 1.8,-1.8, 1.5,-1.6,
1.3,-1.4, 1.0,-1.0, 1.2,0.3, 1.5,0.5, 0.5,-0.8, -0.5,-1.5, 0.0,-1.0, 0.8,-0.8, 1.0,-1.0, 0.9,-0.9,
1.0,-0.8, 0.8,-1.0, 1.0,-0.9, 1.2,-1.0, 2.5,-1.0, 1.0,-1.0, 0.9,-0.8, 0.8,-1.0, 1.0,-0.8, 0.8,-0.8,
0.7,-0.8, 0.6,-0.5, 1.5,0.5, 1.2,0.0, 0.0,-1.0, 0.3,-0.8, 0.8,-0.6, 1.0,-1.0, 1.2,-1.0, 1.0,-1.2,
1.3,-1.0, 1.0,-1.2, 2.5,-1.0, 1.2,-3.0, 1.0,-1.0
];
const brVL = [
0.3,-0.3, 0.2,-0.3,
0.15,-0.2, 0.12,-0.15, 0.1,-0.12, 0.12,-0.1, 0.1,-0.15, 0.12,-0.12, 0.1,-0.1, 0.08,-0.12, 0.1,-0.1, 0.12,-0.15,
0.1,-0.12, 0.12,-0.12, 0.15,-0.1, 0.12,-0.15, 0.1,-0.12, 0.15,-0.15, 0.12,-0.12, 0.15,-0.15, 0.2,-0.2, 0.15,-0.12,
0.12,-0.15, 0.1,-0.12, 0.12,-0.1, 0.15,-0.15, 0.12,-0.12, 0.15,-0.15, 0.1,-0.12, 0.12,-0.15, 0.15,-0.12, 0.12,-0.15,
0.2,-0.2, 0.15,-0.15, 0.12,-0.2, 0.15,-0.15, 0.12,-0.2, 0.15,-0.2, 0.15,-0.4, 0.2,-0.25, 0.15,-0.35, 0.15,-0.2,
0.12,-0.15, 0.1,-0.12, 0.12,-0.1, 0.1,-0.12, 0.1,-0.1, 0.12,-0.12, 0.1,-0.1, 0.12,-0.12, 0.1,-0.15, 0.15,-0.15,
0.2,-0.2, 0.15,-0.25, 0.2,-0.2, 0.15,-0.25, 0.2,-0.3, 0.2,-0.6, 0.15,-0.25, 0.2,-0.2, 0.15,-0.2, 0.2,-0.4,
0.15,-0.2, 0.1,-0.12, 0.08,-0.1, 0.1,-0.1, 0.08,-0.1, 0.1,-0.08, 0.08,-0.1, 0.1,-0.12, 0.12,-0.15, 0.2,-0.2,
0.3,-0.35, 0.35,-0.4, 0.4,-0.5, 0.45,-0.45, 0.4,-0.55, 0.35,-0.7, 0.4,-0.5, 0.5,-0.6, 0.3,-0.35, 0.25,-0.3,
0.15,-0.2, 0.12,-0.15, 0.15,-0.12, 0.12,-0.15, 0.1,-0.12, 0.12,-0.12, 0.15,-0.15, 0.12,-0.15, 0.15,-0.12, 0.2,-0.25,
0.25,-0.25, 0.2,-0.3, 0.25,-0.25, 0.45,-0.3, 0.25,-0.5, 0.3,-0.25, 0.25,-0.3, 0.2,-0.25, 0.25,-0.2, 0.2,-0.25,
0.2,-0.2, 0.25,-0.2, 0.2,-0.25, 0.25,-0.2, 0.1,-0.1, 0.08,-0.1, 0.1,-0.08, 0.2,-0.2, 0.35,-0.35, 0.4,-0.45,
0.45,-0.5, 0.4,-0.8, 0.5,-0.5, 0.55,-0.55, 0.45,-0.5, 0.4,-0.45, 0.5,-0.55, 0.35,-0.8, 0.4,-0.4, 0.3,-0.35,
0.25,-0.3, 0.2,-0.2, 0.1,-0.1, 0.08,-0.1, 0.1,-0.08, 0.1,-0.1, 0.15,-0.15, 0.25,-0.25, 0.3,-0.3, 0.25,-0.3,
0.3,-0.25, 0.25,-0.35, 0.3,-0.3, 0.25,-0.5, 0.3,-0.3
];
const brBF = [
0.3,-0.2, 0.4,-0.35,
0.35,-0.55, 0.7,-0.4, 0.3,-0.3, 0.1,-0.1, 0.03,-0.03, 0.03,-0.03, 0.05,-0.02, 0.03,-0.03, 0.03,-0.03, 0.05,-0.02,
0.03,-0.03, 0.03,-0.03, 0.05,-0.03, 0.03,-0.03, 0.03,-0.03, 0.05,-0.03, 0.1,-0.1, 0.3,-0.5, 0.6,-0.3, 0.35,-0.3,
0.3,-0.35, 0.55,-0.3, 0.3,-0.25, 0.1,-0.1, 0.05,-0.03, 0.1,-0.03, 0.05,-0.03, 0.03,-0.03, 0.05,-0.03, 0.1,-0.05,
0.55,-0.3, 0.2,-0.2, 0.2,-0.25, 0.1,-0.1, 0.08,-0.05, 0.1,-0.1, 0.3,-0.3, 0.35,-0.35, 0.4,-0.4, 0.75,-0.5,
0.4,-0.8, 0.3,-0.6, 0.1,-0.1, 0.03,-0.03, 0.03,-0.03, 0.05,-0.03, 0.03,-0.03, 0.05,-0.03, 0.3,-0.1, 0.05,-0.03,
0.05,-0.03, 0.03,-0.03, 0.05,-0.03, 0.05,-0.05, 0.25,-0.2, 0.3,-0.3, 0.35,-0.35, 0.3,-0.4, 0.35,-0.3, 0.6,-0.5,
0.3,-0.35, 0.1,-0.1, 0.03,-0.03, 0.05,-0.03, 0.03,-0.03, 0.05,-0.03, 0.03,-0.03, 0.25,-0.2, 0.4,-0.25, 0.3,-0.3,
0.15,-0.15, 0.05,-0.03, 0.03,-0.03, 0.05,-0.03, 0.03,-0.03, 0.05,-0.03, 0.03,-0.03, 0.05,-0.03, 0.05,-0.05, 0.3,-0.3,
0.25,-0.25, 0.5,-0.3, 0.1,-0.1, 0.03,-0.03, 0.05,-0.03, 0.03,-0.03, 0.05,-0.03, 0.03,-0.03, 0.3,-0.3, 0.55,-0.35,
0.35,-0.4, 0.3,-0.35, 0.35,-0.3, 0.3,-0.35, 0.35,-0.4, 0.4,-0.35, 0.5,-0.4, 0.4,-0.6, 0.35,-0.4, 0.4,-0.35,
0.35,-0.4, 0.3,-0.35, 0.2,-0.2, 0.05,-0.03, 0.03,-0.03, 0.05,-0.03, 0.2,-0.2, 0.3,-0.3, 0.3,-0.35, 0.45,-0.3,
0.3,-0.3, 0.1,-0.1, 0.05,-0.03, 0.05,-0.05, 0.3,-0.2, 0.35,-0.3, 0.45,-0.35, 0.3,-0.55, 0.35,-0.3, 0.3,-0.25,
0.1,-0.1, 0.05,-0.03, 0.08,-0.05, 0.05,-0.03, 0.08,-0.05, 0.1,-0.1, 0.3,-0.3, 0.45,-0.3, 0.3,-0.35, 0.25,-0.3,
0.3,-0.25, 0.25,-0.3, 0.35,-0.3, 0.3,-0.35, 0.35,-0.3
];
const brGRF = [
0.77, 0.76,
0.5, 0.24, 0.04, 0, 0, 0, 0, 0, 0, 0.38,
0.5, 0.72, 0.76, 0.83, 0.9, 0.94, 0.89, 0.82, 0.77, 0.77,
0.72, 0.35, 0, 0, 0, 0, 0, 0, 0.1, 0.43,
0.58, 0.75, 0.84, 0.91, 0.93, 0.85, 0.82, 0.8, 0.77, 0.53,
0.2, 0, 0, 0, 0, 0, 0, 0.39, 0.45, 0.52,
0.63, 0.82, 0.93, 1.0, 0.9, 0.84, 0.81, 0.83, 0.83, 0.5,
0.25, 0, 0, 0, 0, 0, 0, 0.2, 0.42, 0.5,
0.53, 0.57, 0.62, 0.73, 0.88, 0.95, 0.87, 0.8, 0.72, 0.65,
0.56, 0.3, 0, 0, 0, 0.02, 0, 0, 0.4, 0.5,
0.72, 0.86, 0.93, 0.99, 0.96, 0.9, 0.85, 0.8, 0.77, 0.72,
0.62, 0.1, 0, 0, 0, 0, 0, 0.1, 0.43, 0.46,
0.53, 0.64, 0.8, 0.88, 0.94, 0.9, 0.85, 0.75, 0.63, 0.48,
0.2, 0, 0, 0, 0, 0.1, 0.38, 0.5, 0.56, 0.68,
0.8, 0.89, 0.93, 0.92, 0.88
];

// ---------------- LAYOUT ----------------
const panels = [
  { x0: 83,  x1: 556,  dom: [0.65, 14.1], ys: [80, 153, 227, 302, 376], h: 47, rowLabels: true,
    t0: startTop, emg: [tlTA, tlGC, tlVL, tlBF], grf: tlGRF, yt: yTicksTL },
  { x0: 600, x1: 1077, dom: [0.66, 14.08], ys: [80, 153, 228, 302, 377], h: 47, rowLabels: false,
    t0: startTop, emg: [trTA, trGC, trVL, trBF], grf: trGRF, yt: yTicksTR },
  { x0: 83,  x1: 557,  dom: [0.8, 14.3], ys: [541, 615, 690, 763, 839], h: 47, rowLabels: true,
    t0: startBL, emg: [blTA, blGC, blVL, blBF], grf: blGRF, yt: yTicksBL },
  { x0: 602, x1: 1076, dom: [0.8, 14.4], ys: [542, 617, 692, 766, 841], h: 48, rowLabels: false,
    t0: startBR, emg: [brTA, brGC, brVL, brBF], grf: brGRF, yt: yTicksBR },
];

const svg = d3.select("#c");
const FONT = "Liberation Sans, Arial, sans-serif";
const AXC = "#1a1a1a";
const LINEC = "#0000ff";
const fmt = d => String(d);

function styleAxis(sel, showText) {
  sel.select(".domain").remove();
  sel.selectAll(".tick line").attr("stroke", AXC);
  sel.attr("font-family", FONT).attr("font-size", 13.5);
  sel.selectAll(".tick text").attr("fill", "#111").attr("font-weight", "bold");
  if (!showText) sel.selectAll(".tick text").remove();
}

panels.forEach((P, pi) => {
  const x = d3.scaleLinear().domain(P.dom).range([P.x0, P.x1]);
  for (let r = 0; r < 5; r++) {
    const y0 = P.ys[r], h = P.h;
    const ticks = P.yt[r];
    const y = d3.scaleLinear().domain([ticks[0], ticks[ticks.length - 1]]).range([y0 + h, y0]);
    const g = svg.append("g");
    const cid = `clip-${pi}-${r}`;
    svg.append("clipPath").attr("id", cid).append("rect")
      .attr("x", P.x0).attr("y", y0).attr("width", P.x1 - P.x0).attr("height", h);

    if (r < 4) {
      const arr = P.emg[r];
      // envelope of each 0.1 s bin (max / min), filled
      const bins = d3.range(arr.length / 2).map(i => ({ t: P.t0 + i * binStep, hi: arr[2 * i], lo: arr[2 * i + 1] }));
      const area = d3.area().x(d => x(d.t + binStep / 4)).y0(d => y(d.lo)).y1(d => y(d.hi));
      g.append("path").attr("clip-path", `url(#${cid})`)
        .attr("d", area(bins)).attr("fill", LINEC).attr("fill-opacity", 0.8).attr("stroke", "none");
      // the trace itself, visiting each bin's max then min
      const pts = arr.map((v, k) => [P.t0 + k * binStep / 2, v]);
      const line = d3.line().x(d => x(d[0])).y(d => y(d[1]));
      g.append("path").attr("clip-path", `url(#${cid})`)
        .attr("d", line(pts)).attr("fill", "none")
        .attr("stroke", LINEC).attr("stroke-width", 1).attr("stroke-linejoin", "round");
    } else {
      const pts = P.grf.map((v, i) => [P.t0 + i * binStep, v]);
      const line = d3.line().x(d => x(d[0])).y(d => y(d[1]));
      g.append("path").attr("clip-path", `url(#${cid})`)
        .attr("d", line(pts)).attr("fill", "none")
        .attr("stroke", LINEC).attr("stroke-width", 1).attr("stroke-linejoin", "round");
    }

    // axes (MATLAB style: ticks inside, on all four sides)
    g.append("g").attr("transform", `translate(0,${y0 + h})`)
      .call(d3.axisBottom(x).tickValues(xTicks).tickSizeInner(-5).tickSizeOuter(0).tickPadding(5).tickFormat(fmt))
      .call(s => styleAxis(s, true));
    g.append("g").attr("transform", `translate(0,${y0})`)
      .call(d3.axisTop(x).tickValues(xTicks).tickSizeInner(-5).tickSizeOuter(0))
      .call(s => styleAxis(s, false));
    const gl = g.append("g").attr("transform", `translate(${P.x0},0)`)
      .call(d3.axisLeft(y).tickValues(ticks).tickSizeInner(-5).tickSizeOuter(0).tickPadding(5).tickFormat(fmt))
      .call(s => styleAxis(s, true));
    g.append("g").attr("transform", `translate(${P.x1},0)`)
      .call(d3.axisRight(y).tickValues(ticks).tickSizeInner(-5).tickSizeOuter(0))
      .call(s => styleAxis(s, false));

    g.append("rect").attr("x", P.x0 + 0.5).attr("y", y0 + 0.5)
      .attr("width", P.x1 - P.x0).attr("height", h)
      .attr("fill", "none").attr("stroke", AXC).attr("stroke-width", 1);

    if (P.rowLabels) {
      const bb = gl.node().getBBox();
      g.append("text").attr("x", P.x0 + bb.x - 5).attr("y", y0 + h / 2)
        .attr("text-anchor", "end").attr("dominant-baseline", "central")
        .attr("font-family", FONT).attr("font-size", 20).attr("fill", "#000")
        .text(muscles[r]);
    }
  }
});

function label(txt, x, y, size) {
  svg.append("text").attr("x", x).attr("y", y).attr("text-anchor", "middle")
    .attr("dominant-baseline", "central").attr("font-family", FONT)
    .attr("font-size", size).attr("fill", "#000").text(txt);
}
label(mainTitle, 575, 23, 21);
label(colTitles[0], 310, 53, 21);
label(colTitles[1], 841, 57, 21);
label(sectionTitle2, 573, 477, 21);
label(xLabel, 303, 459, 16.5);
label(xLabel, 846, 457, 16.5);
label(xLabel, 302, 924, 16.5);
label(xLabel, 853, 922, 16.5);
</script>
</body></html>
